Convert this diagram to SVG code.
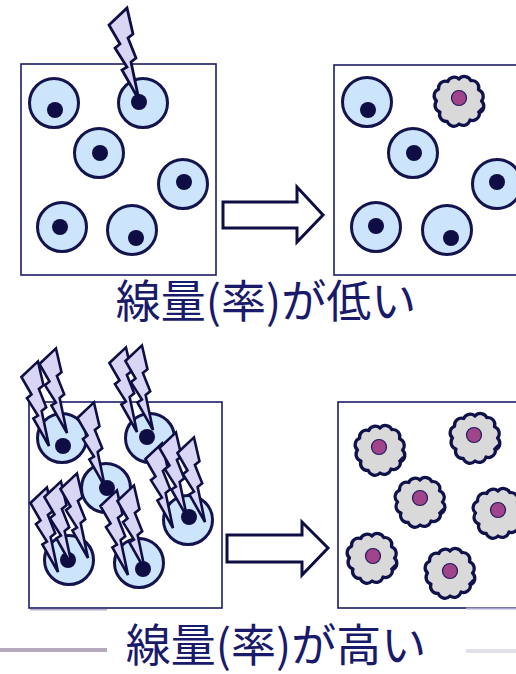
<svg xmlns="http://www.w3.org/2000/svg" xmlns:xlink="http://www.w3.org/1999/xlink" width="516" height="674" viewBox="0 0 516 674">
  <style>
    .box { fill: #ffffff; stroke: #1c1c68; stroke-width: 1.6; }
    .cell { fill: #cde5fc; stroke: #13134d; stroke-width: 3; }
    .nuc { fill: #0e0e44; }
    .bolt { fill: #d9d5f5; stroke: #0e0e44; stroke-width: 2.8; stroke-linejoin: miter; stroke-miterlimit: 6; }
    .blob { fill: #d9d9d9; stroke: #10104a; stroke-width: 3; stroke-linejoin: round; }
    .tick { fill: none; stroke: #10104a; stroke-width: 2; stroke-linecap: round; }
    .dnuc { fill: #a0448c; stroke: #1a1a5a; stroke-width: 1.2; }
    .arrow { fill: #ffffff; stroke: #0e0e44; stroke-width: 3; stroke-linejoin: miter; }
    .label { font-family: "Noto Sans CJK JP", "Noto Sans", sans-serif; font-size: 45px; fill: #1a1a6b; text-anchor: middle; }
  </style>
  <defs>
    <!-- lightning bolt, tip at the origin -->
    <path id="bolt" class="bolt" d="M-30,-75 L-12,-92 L-6,-66 L-11,-62 L-3,-42 L-8,-38 L0,0 L-17,-30 L-12,-33 L-24,-52 L-19,-56 Z"/>
    <!-- ruptured (dead) cell outline -->
    <g id="deadcell">
      <path class="blob" transform="scale(1.07)" d="M21,0 A6.5,6.5 0 0 1 19.05,11 A6.5,6.5 0 0 1 10.25,17.75 A6.5,6.5 0 0 1 0,21.5 A6.5,6.5 0 0 1 -11,19.05 A6.5,6.5 0 0 1 -17.75,10.25 A6.5,6.5 0 0 1 -21,0 A6.5,6.5 0 0 1 -19.05,-11 A6.5,6.5 0 0 1 -10.5,-18.19 A6.5,6.5 0 0 1 0,-20.5 A6.5,6.5 0 0 1 11,-19.05 A6.5,6.5 0 0 1 18.19,-10.5 A6.5,6.5 0 0 1 21,0 Z"/>
      <path class="tick" d="M23,7 L19,11"/>
    </g>
  </defs>

  <!-- slide rules -->
  <g id="rules">
    <rect x="0" y="648" width="107" height="4" fill="#b4aabb"/>
    <rect x="466" y="649" width="50" height="4" fill="#e3dfe7"/>
  </g>

  <!-- low dose: before -->
  <g id="low-before">
    <rect class="box" x="21" y="64" width="195" height="211"/>
    <g id="low-cell-1"><circle class="cell" cx="54" cy="103" r="24.5"/><circle class="nuc" cx="55" cy="110" r="8"/></g>
    <g id="low-cell-2"><circle class="cell" cx="143" cy="103" r="24.5"/><circle class="nuc" cx="139" cy="102" r="8"/>
      <use xlink:href="#bolt" transform="translate(139,100)"/></g>
    <g id="low-cell-3"><circle class="cell" cx="99" cy="153" r="24.5"/><circle class="nuc" cx="100" cy="153" r="8"/></g>
    <g id="low-cell-4"><circle class="cell" cx="183" cy="184" r="24.5"/><circle class="nuc" cx="184" cy="182" r="8"/></g>
    <g id="low-cell-5"><circle class="cell" cx="62" cy="227" r="24.5"/><circle class="nuc" cx="60" cy="227" r="8"/></g>
    <g id="low-cell-6"><circle class="cell" cx="132" cy="230" r="24.5"/><circle class="nuc" cx="136" cy="238" r="8"/></g>
  </g>

  <!-- low dose: after -->
  <g id="low-after">
    <rect class="box" x="334" y="65" width="195" height="210"/>
    <g id="low-after-cell-1"><circle class="cell" cx="367" cy="102" r="24.5"/><circle class="nuc" cx="368" cy="110" r="8"/></g>
    <g id="low-after-dead"><use xlink:href="#deadcell" transform="translate(459,101)"/><circle class="dnuc" cx="459" cy="98" r="7.5"/></g>
    <g id="low-after-cell-3"><circle class="cell" cx="413" cy="153" r="24.5"/><circle class="nuc" cx="414" cy="153" r="8"/></g>
    <g id="low-after-cell-4"><circle class="cell" cx="497" cy="184" r="24.5"/><circle class="nuc" cx="497" cy="182" r="8"/></g>
    <g id="low-after-cell-5"><circle class="cell" cx="376" cy="227" r="24.5"/><circle class="nuc" cx="376" cy="226" r="8"/></g>
    <g id="low-after-cell-6"><circle class="cell" cx="447" cy="230" r="24.5"/><circle class="nuc" cx="451" cy="238" r="8"/></g>
  </g>

  <text id="label-low" class="label" x="266" y="318">線量(率)が低い</text>

  <!-- high dose: before -->
  <g id="high-before">
    <rect class="box" x="29" y="402" width="193" height="206"/>
    <g id="high-cell-a"><circle class="cell" cx="62" cy="438" r="24.5"/><circle class="nuc" cx="63" cy="446" r="8"/>
      <use xlink:href="#bolt" transform="translate(49,446) scale(0.92)"/>
      <use xlink:href="#bolt" transform="translate(67,433) scale(0.92)"/></g>
    <g id="high-cell-b"><circle class="cell" cx="150" cy="438" r="24.5"/><circle class="nuc" cx="147" cy="437" r="8"/>
      <use xlink:href="#bolt" transform="translate(137,432) scale(0.92)"/>
      <use xlink:href="#bolt" transform="translate(153,430) scale(0.92)"/></g>
    <g id="high-cell-c"><circle class="cell" cx="106" cy="488" r="24.5"/><circle class="nuc" cx="107" cy="488" r="8"/>
      <use xlink:href="#bolt" transform="translate(105,487) scale(0.92)"/></g>
    <g id="high-cell-d"><circle class="cell" cx="188" cy="520" r="24.5"/><circle class="nuc" cx="189" cy="517" r="8"/>
      <use xlink:href="#bolt" transform="translate(173,528) scale(0.92)"/>
      <use xlink:href="#bolt" transform="translate(187,517) scale(0.92)"/>
      <use xlink:href="#bolt" transform="translate(205,522) scale(0.92)"/></g>
    <g id="high-cell-e"><circle class="cell" cx="69" cy="560" r="24.5"/><circle class="nuc" cx="68" cy="560" r="8"/>
      <use xlink:href="#bolt" transform="translate(58,572) scale(0.92)"/>
      <use xlink:href="#bolt" transform="translate(72,566) scale(0.92)"/>
      <use xlink:href="#bolt" transform="translate(88,558) scale(0.92)"/></g>
    <g id="high-cell-f"><circle class="cell" cx="139" cy="563" r="24.5"/><circle class="nuc" cx="143" cy="569" r="8"/>
      <use xlink:href="#bolt" transform="translate(128,575) scale(0.92)"/>
      <use xlink:href="#bolt" transform="translate(145,570) scale(0.92)"/></g>
  </g>

  <!-- high dose: after -->
  <g id="high-after">
    <rect class="box" x="338" y="402" width="195" height="206"/>
    <g id="dead-1"><use xlink:href="#deadcell" transform="translate(380,450)"/><circle class="dnuc" cx="379" cy="447" r="7.5"/></g>
    <g id="dead-2"><use xlink:href="#deadcell" transform="translate(475,438)"/><circle class="dnuc" cx="474" cy="435" r="7.5"/></g>
    <g id="dead-3"><use xlink:href="#deadcell" transform="translate(420,502)"/><circle class="dnuc" cx="420" cy="498" r="7.5"/></g>
    <g id="dead-4"><use xlink:href="#deadcell" transform="translate(498,513)"/><circle class="dnuc" cx="498" cy="510" r="7.5"/></g>
    <g id="dead-5"><use xlink:href="#deadcell" transform="translate(372,558)"/><circle class="dnuc" cx="373" cy="556" r="7.5"/></g>
    <g id="dead-6"><use xlink:href="#deadcell" transform="translate(450,573)"/><circle class="dnuc" cx="450" cy="571" r="7.5"/></g>
  </g>

  <!-- light rules over box bottoms -->
  <g id="rules-thin">
    <rect x="30" y="609" width="77" height="1.5" fill="#b8b0c8"/>
    <rect x="466" y="607.5" width="50" height="2" fill="#a8a6d2"/>
  </g>

  <text id="label-high" class="label" x="276" y="662">線量(率)が高い</text>

  <!-- transition arrows -->
  <g id="connectors">
    <path class="arrow" d="M223,202 H297 V187 L323,215 L297,242 V228 H223 Z"/>
    <path class="arrow" d="M227,535 H302 V522 L328,548 L302,575 V562 H227 Z"/>
  </g>
</svg>
